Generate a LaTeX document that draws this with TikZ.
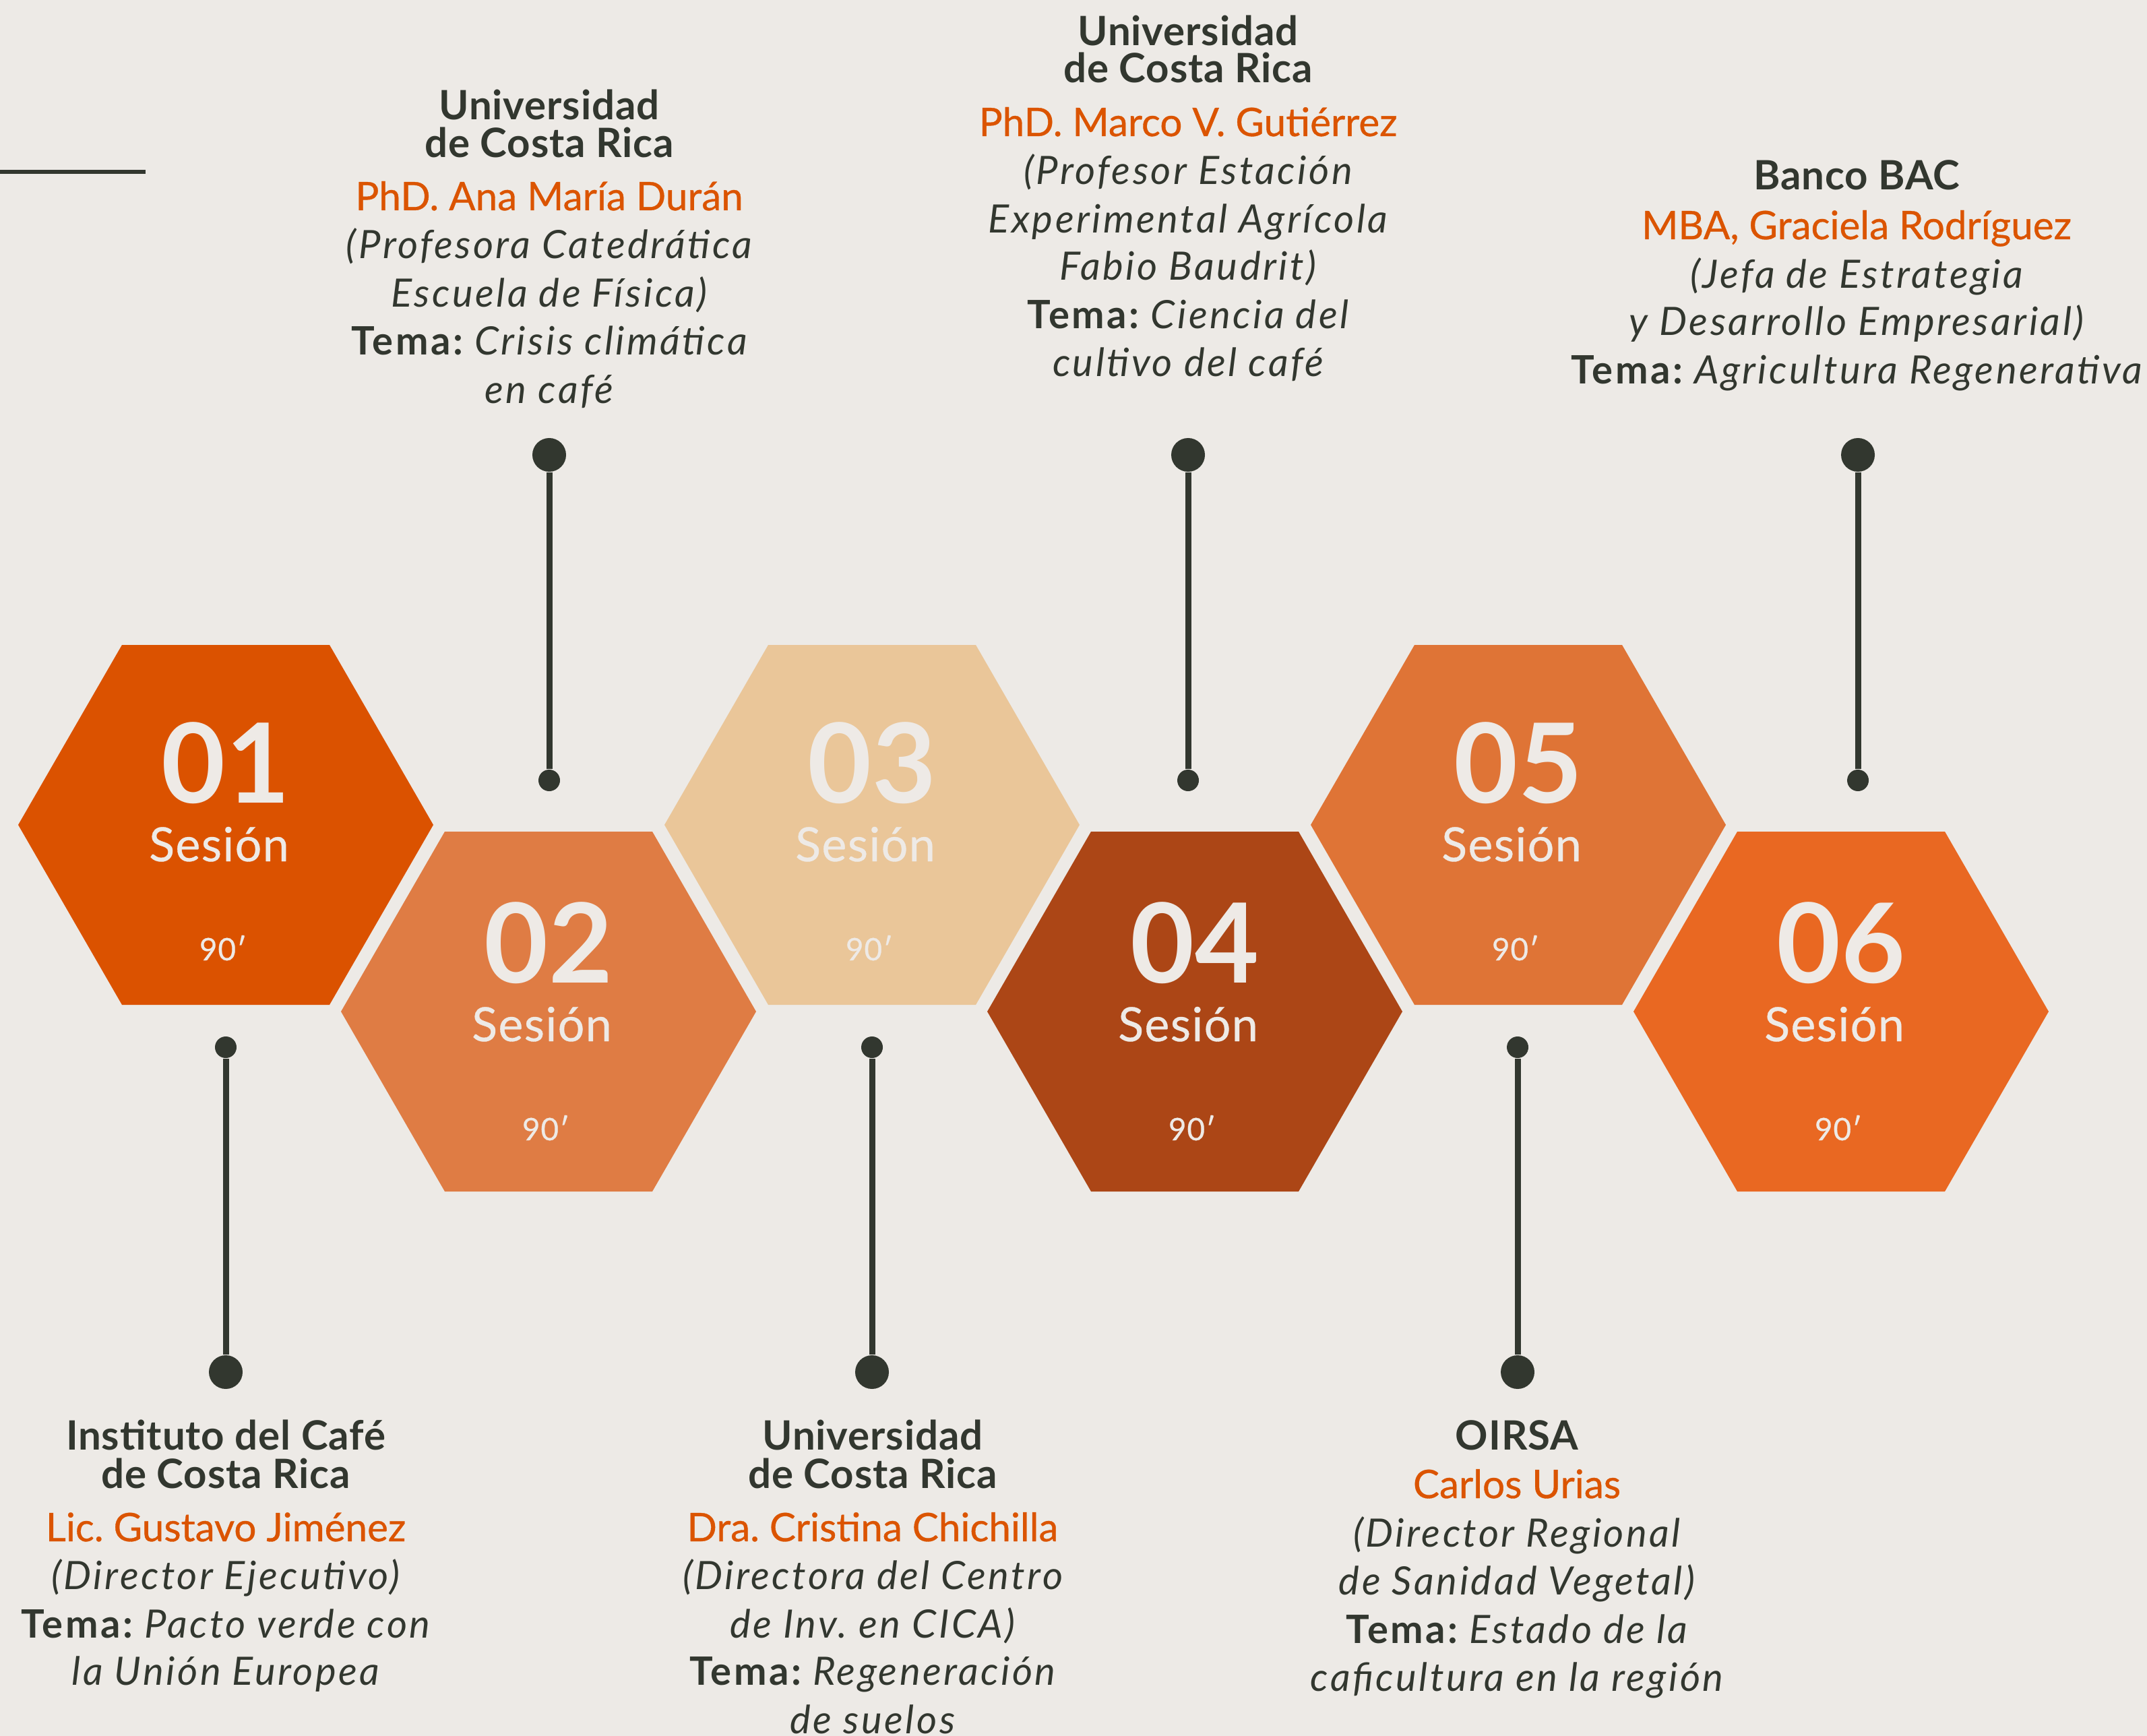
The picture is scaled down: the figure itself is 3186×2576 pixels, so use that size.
\documentclass[tikz,border=0pt]{standalone}
\usepackage{fontspec}
\setmainfont{Lato}
\newfontfamily\ttlfont{Lato}[LetterSpace=1.5]
\newfontfamily\bodfont{Lato}[LetterSpace=6]
\newfontfamily\namfont{Lato}[FakeBold=0.6]
\newfontfamily\sesfont{Lato}[FakeBold=0.5,LetterSpace=2]
\definecolor{bg}{HTML}{EDEAE6}
\definecolor{hA}{HTML}{DB5200}
\definecolor{hB}{HTML}{DF7C44}
\definecolor{hC}{HTML}{EAC699}
\definecolor{hD}{HTML}{AC4616}
\definecolor{hE}{HTML}{DF7436}
\definecolor{hF}{HTML}{E96822}
\definecolor{dark}{HTML}{32372F}
\definecolor{orng}{HTML}{DB5400}
\definecolor{hextxt}{HTML}{EEEAE6}
\newcommand\temalbl{{\upshape\bfseries Tema:}}
\frenchspacing
\begin{document}
\begin{tikzpicture}[x=0.25pt,y=-0.25pt,
  ttl/.style={font=\fontsize{15}{17}\ttlfont\bfseries, text=dark, anchor=base, inner sep=0pt},
  nam/.style={font=\fontsize{14.6}{17}\namfont, text=orng, anchor=base, inner sep=0pt},
  bod/.style={font=\fontsize{14.5}{17}\bodfont\itshape, text=dark, anchor=base, inner sep=0pt},
  numsty/.style={font=\fontsize{41}{42}\selectfont\bfseries, text=hextxt, anchor=base, inner sep=0pt},
  sessty/.style={font=\fontsize{17.5}{18}\sesfont, text=hextxt, anchor=base, inner sep=0pt},
  minsty/.style={font=\fontsize{11.5}{12}\sesfont, text=hextxt, anchor=base, inner sep=0pt},
  bigdot/.style={circle, fill=dark, inner sep=0pt, minimum size=12.5pt},
  smalldot/.style={circle, fill=dark, inner sep=0pt, minimum size=8pt},
  conn/.style={draw=dark, line width=2.25pt}]
\fill[bg] (0,0) rectangle (3186,2576);
\useasboundingbox (0,0) rectangle (3186,2576);
% short rule top-left
\coordinate (r0) at (0,255);
\coordinate (r1) at (216,255);
\draw[dark, line width=1.5pt] (r0) -- (r1);
% hexagons
\foreach \i/\cx/\cy/\col/\dy in {1/335/1224/hA/0, 2/814/1501/hB/-10, 3/1294/1224/hC/0, 4/1773/1501/hD/-10, 5/2253/1224/hE/0, 6/2732/1501/hF/-10}{
  \coordinate (h\i) at (\cx,\cy);
  \fill[\col] (\cx-308,\cy) -- (\cx-154,\cy-267) -- (\cx+154,\cy-267) -- (\cx+308,\cy) -- (\cx+154,\cy+267) -- (\cx-154,\cy+267) -- cycle;
  \node[numsty] (n\i) at (\cx,\cy-33+\dy) {0\i};
  \node[sessty] (s\i) at (\cx-10,\cy+54+\dy) {Sesión};
  \node[minsty] (m\i) at (\cx-4,\cy+201+\dy) {90′};
}
% connectors top
\node[bigdot] (tA) at (815,675) {};
\node[smalldot] (uA) at (815,1158) {};
\draw[conn] (tA) -- (uA);
\node[bigdot] (tB) at (1763,675) {};
\node[smalldot] (uB) at (1763,1158) {};
\draw[conn] (tB) -- (uB);
\node[bigdot] (tC) at (2757,675) {};
\node[smalldot] (uC) at (2757,1158) {};
\draw[conn] (tC) -- (uC);
% connectors bottom
\node[smalldot] (uD) at (335,1554) {};
\node[bigdot] (tD) at (335,2036) {};
\draw[conn] (uD) -- (tD);
\node[smalldot] (uE) at (1294,1554) {};
\node[bigdot] (tE) at (1294,2036) {};
\draw[conn] (uE) -- (tE);
\node[smalldot] (uF) at (2252,1554) {};
\node[bigdot] (tF) at (2252,2036) {};
\draw[conn] (uF) -- (tF);
% block A (session 02)
\node[ttl] (a1) at (815,178) {Universidad};
\node[ttl] (a2) at (815,234) {de Costa Rica};
\node[nam] (a3) at (815,312) {PhD. Ana María Durán};
\node[bod] (a4) at (815,384) {(Profesora Catedrática};
\node[bod] (a5) at (815,456) {Escuela de Física)};
\node[bod] (a6) at (815,527) {\temalbl{} Crisis climática};
\node[bod] (a7) at (815,599) {en café};
% block B (session 04)
\node[ttl] (b1) at (1763,68) {Universidad};
\node[ttl] (b2) at (1763,123) {de Costa Rica};
\node[nam] (b3) at (1763,202) {PhD. Marco V. Gutiérrez};
\node[bod] (b4) at (1763,274) {(Profesor Estación};
\node[bod] (b5) at (1763,346) {Experimental Agrícola};
\node[bod] (b6) at (1763,416) {Fabio Baudrit)};
\node[bod] (b7) at (1763,488) {\temalbl{} Ciencia del};
\node[bod] (b8) at (1763,559) {cultivo del café};
% block C (session 06)
\node[ttl] (c1) at (2755,282) {Banco BAC};
\node[nam] (c2) at (2755,355) {MBA, Graciela Rodríguez};
\node[bod] (c3) at (2755,428) {(Jefa de Estrategia};
\node[bod] (c4) at (2755,498) {y Desarrollo Empresarial)};
\node[bod] (c5) at (2755,570) {\temalbl{} Agricultura Regenerativa};
% block D (session 01)
\node[ttl] (d1) at (335,2151) {Instituto del Café};
\node[ttl] (d2) at (335,2208) {de Costa Rica};
\node[nam] (d3) at (335,2287) {Lic. Gustavo Jiménez};
\node[bod] (d4) at (335,2358) {(Director Ejecutivo)};
\node[bod] (d5) at (335,2430) {\temalbl{} Pacto verde con};
\node[bod] (d6) at (335,2500) {la Unión Europea};
% block E (session 03)
\node[ttl] (e1) at (1295,2151) {Universidad};
\node[ttl] (e2) at (1295,2208) {de Costa Rica};
\node[nam] (e3) at (1295,2287) {Dra. Cristina Chichilla};
\node[bod] (e4) at (1295,2358) {(Directora del Centro};
\node[bod] (e5) at (1295,2430) {de Inv. en CICA)};
\node[bod] (e6) at (1295,2500) {\temalbl{} Regeneración};
\node[bod] (e7) at (1295,2572) {de suelos};
% block F (session 05)
\node[ttl] (f1) at (2251,2151) {OIRSA};
\node[nam] (f2) at (2251,2223) {Carlos Urias};
\node[bod] (f3) at (2251,2295) {(Director Regional};
\node[bod] (f4) at (2251,2366) {de Sanidad Vegetal)};
\node[bod] (f5) at (2251,2438) {\temalbl{} Estado de la};
\node[bod] (f6) at (2251,2509) {caficultura en la región};
\end{tikzpicture}
\end{document}
